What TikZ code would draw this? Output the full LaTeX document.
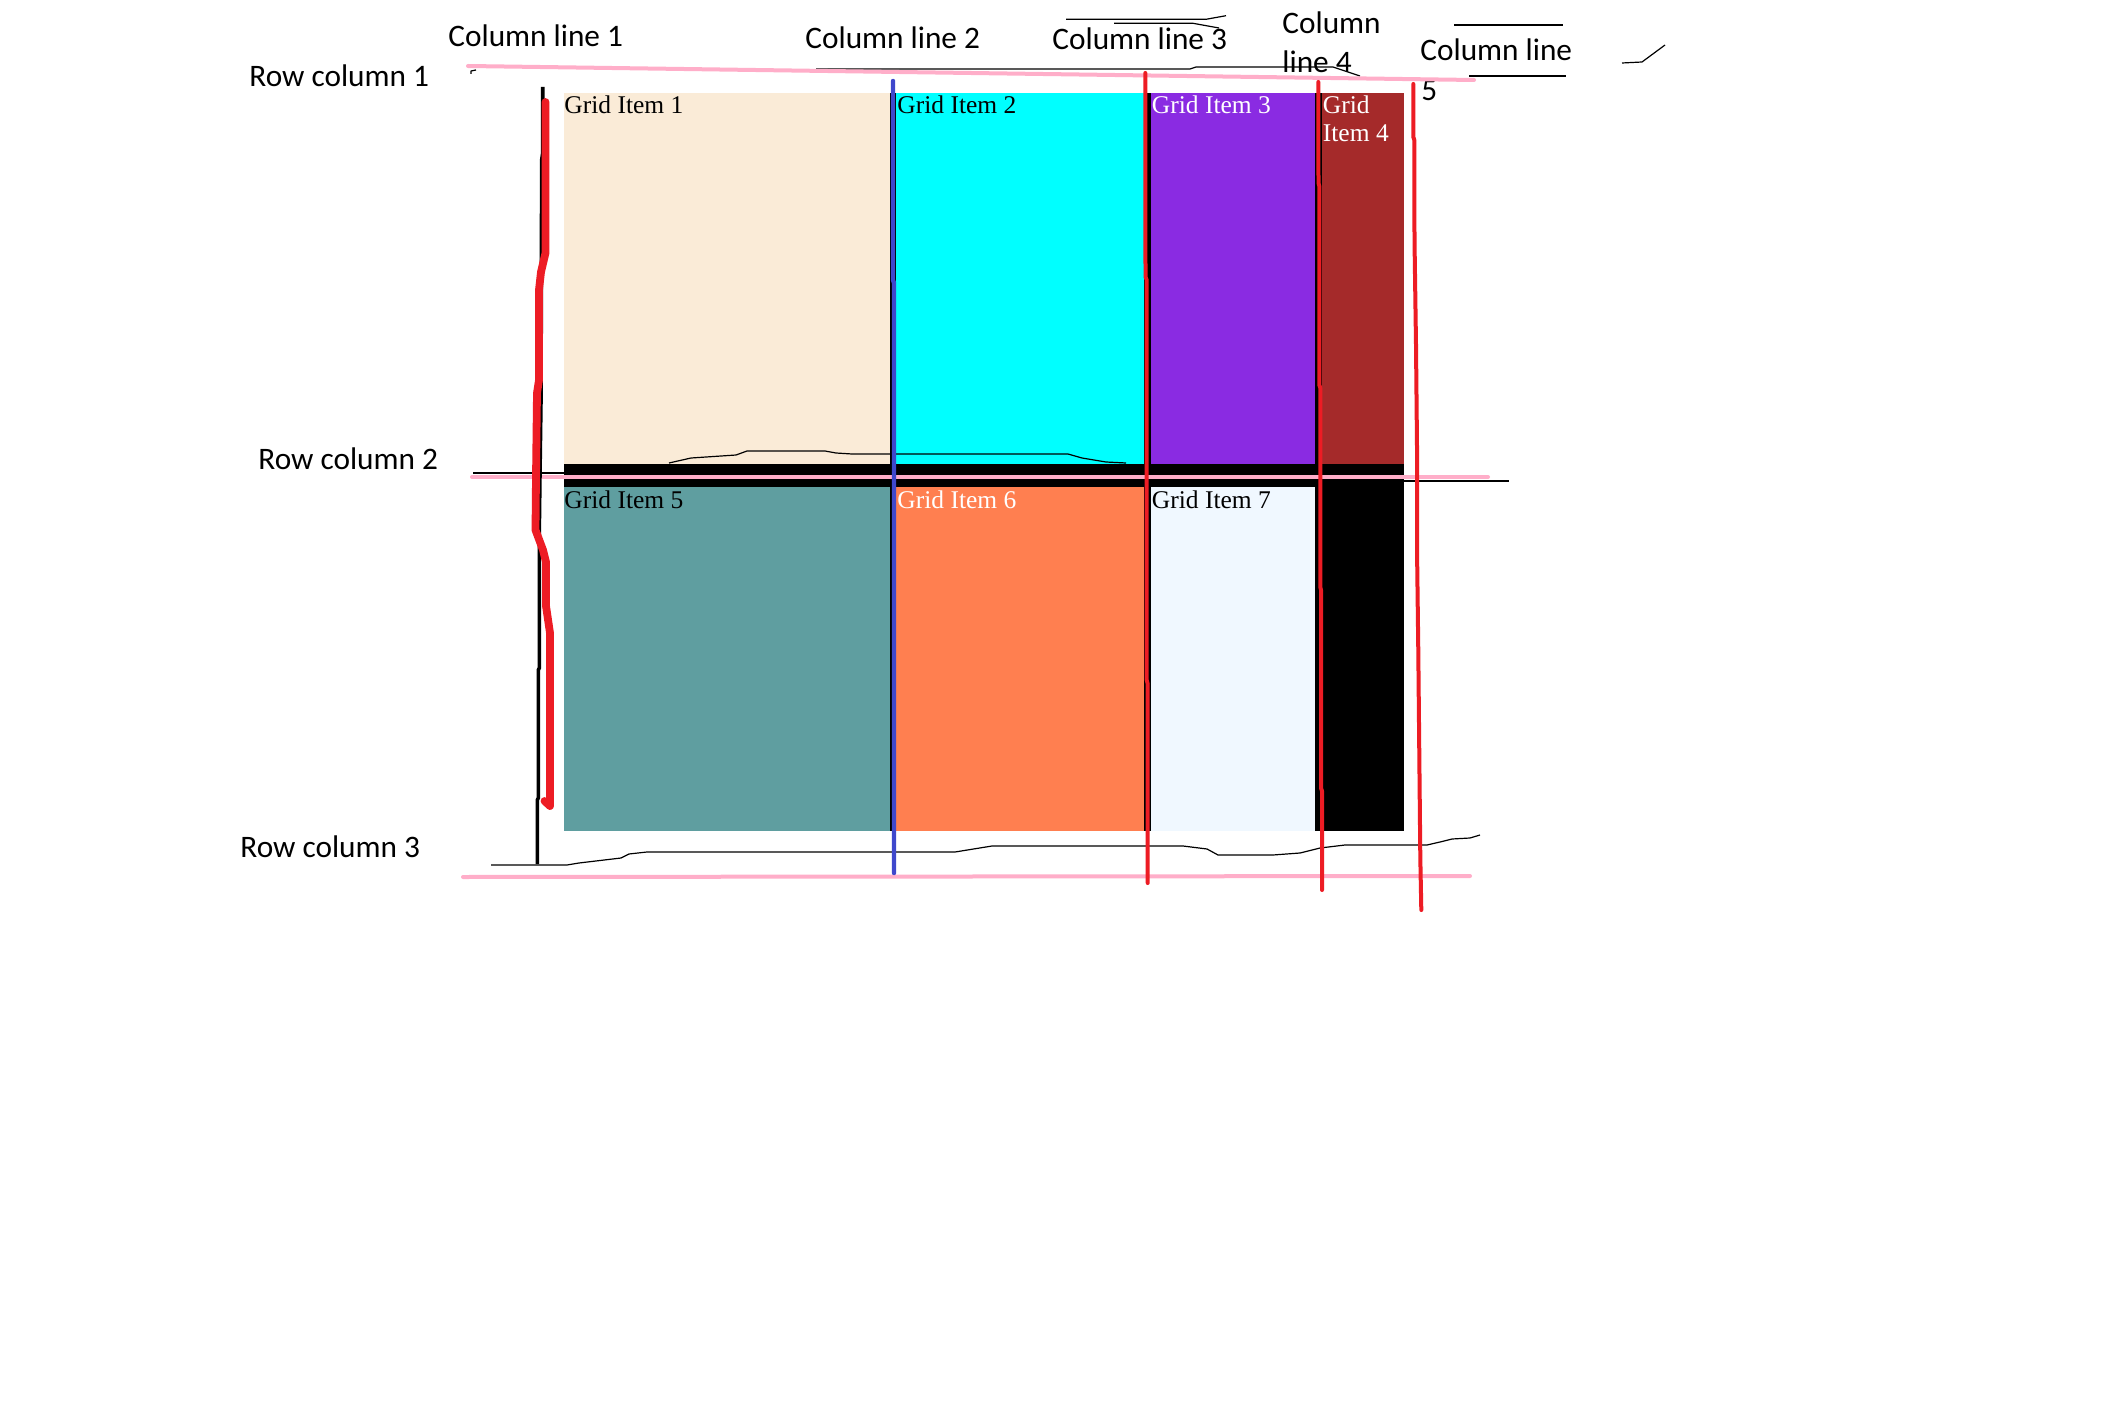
\documentclass[tikz,border=0pt]{standalone}
\usepackage{fontspec}
\setmainfont{Liberation Serif}
\newfontfamily\notefont{Carlito}

% grid item colours
\definecolor{itemA}{RGB}{250,235,215}
\definecolor{itemB}{RGB}{0,255,255}
\definecolor{itemC}{RGB}{138,43,226}
\definecolor{itemD}{RGB}{165,42,42}
\definecolor{itemE}{RGB}{95,158,160}
\definecolor{itemF}{RGB}{255,127,80}
\definecolor{itemG}{RGB}{240,248,255}
% pen colours
\definecolor{penred}{RGB}{237,28,36}
\definecolor{penpink}{RGB}{255,174,201}
\definecolor{penblue}{RGB}{63,72,204}

\begin{document}
\begin{tikzpicture}[x=0.5pt,y=-0.5pt,
  itemtext/.style={anchor=base west, inner sep=0pt, font=\fontsize{12.75pt}{14pt}\selectfont},
  notetext/.style={anchor=base west, inner sep=0pt, font=\notefont\fontsize{15.65pt}{19.5pt}\selectfont},
  pinkpen/.style={draw=penpink, line width=2pt, line cap=round},
  redpen/.style={draw=penred, line width=2pt, line cap=round, line join=round},
  thickred/.style={draw=penred, line width=3.9pt, line cap=round, line join=round},
  bluepen/.style={draw=penblue, line width=2.2pt, line cap=round},
  blackpen/.style={draw=black, line width=1.8pt},
  thinpen/.style={draw=black, line width=0.6pt, line join=round}]

\useasboundingbox (0,0) rectangle (2110,1407);
\fill[white] (0,0) rectangle (2110,1407);

% grid container (gaps show through in black)
\fill[black] (564,93) rectangle (1404,831);
% grid items
\fill[itemA] (564,93)  rectangle (890,464);
\fill[itemB] (896,93)  rectangle (1144,464);
\fill[itemC] (1151,93) rectangle (1315,464);
\fill[itemD] (1322,93) rectangle (1404,464);
\fill[itemE] (564,487) rectangle (890,831);
\fill[itemF] (896,487) rectangle (1144,831);
\fill[itemG] (1151,487) rectangle (1315,831);

\node[itemtext] (t1) at (564,114) {Grid Item 1};
\node[itemtext] (t2) at (897,114) {Grid Item 2};
\node[itemtext, text=white] (t3) at (1151.5,114) {Grid Item 3};
\node[itemtext, text=white] (t4a) at (1322.5,114) {Grid};
\node[itemtext, text=white] (t4b) at (1322.5,142) {Item 4};
\node[itemtext] (t5) at (564,508) {Grid Item 5};
\node[itemtext, text=white] (t6) at (897,508) {Grid Item 6};
\node[itemtext] (t7) at (1151.5,508) {Grid Item 7};

% hand-written labels
\node[notetext] (r1) at (249,87) {Row column 1};
\node[notetext] (r2) at (258,469) {Row column 2};
\node[notetext] (r3) at (240,857) {Row column 3};
\node[notetext] (l1) at (448,47) {Column line 1};
\node[notetext] (l2) at (805,49) {Column line 2};
\node[notetext] (l3) at (1052,50) {Column line 3};
\node[notetext] (l4a) at (1282,34) {Column};
\node[notetext] (l4b) at (1282,73) {line 4};
\node[notetext] (l5a) at (1420,61) {Column line};
\node[notetext] (l5b) at (1421,101) {5};

% thin freehand strokes
\draw[thinpen] (816,69) -- (1190,69) -- (1196,67) -- (1333,67) -- (1360,76);
\draw[thinpen] (1469,76) -- (1566,76);
\draw[thinpen] (1066,19.3) -- (1206,19.3) -- (1226,15.7);
\draw[thinpen] (1114,23.3) -- (1193,23.3) -- (1219,28);
\draw[thinpen] (1454,25) -- (1563,25);
\draw[thinpen] (1622,63) -- (1642,62) -- (1665,45);
\draw[thinpen] (471,74) -- (471,71) -- (476,70);
\draw[thinpen] (473,473) -- (564,473);
\draw[thinpen] (1404,481) -- (1509,481);
\draw[thinpen] (669,463) -- (691,458) -- (736,455) -- (747,451) -- (825,451)
  -- (836,453) -- (852,454) -- (1068,454) -- (1082,458) -- (1106,462) -- (1126,463);
\draw[thinpen] (491,865) -- (567,865) -- (579,863) -- (621,858) -- (629,854)
  -- (647,852) -- (955,852) -- (992,846) -- (1183,846) -- (1207,849) -- (1218,855)
  -- (1273,855) -- (1300,853) -- (1320,848) -- (1345,845) -- (1427,845)
  -- (1440,842) -- (1452,839) -- (1470,838) -- (1480,835);

% row lines
\draw[pinkpen] (468,66) -- (1474,80);
\draw[pinkpen] (472,477) -- (1488,477);
\draw[pinkpen] (463,877) -- (1470,876);

% column lines
\draw[blackpen] (542.7,87) -- (542.7,153) -- (541.7,160) -- (541,400) -- (540,473)
  -- (539.3,530) -- (539.3,668) -- (538.3,670) -- (538.3,798) -- (537.3,800) -- (537.3,864);
\draw[thickred] (545.5,102) -- (545.5,253) -- (541,272) -- (539,290) -- (539,380)
  -- (537,393) -- (536,477) -- (535.5,530) -- (543,550) -- (546,562) -- (546,606)
  -- (550,633) -- (550,806) -- (544.5,801);
\draw[bluepen] (893,81) -- (893,280) -- (894,283) -- (894,873);
\draw[redpen] (1145.3,73) -- (1145.5,277) -- (1146.7,280) -- (1146.7,680)
  -- (1147.7,684) -- (1147.7,883);
\draw[redpen] (1318.3,82) -- (1318.5,183) -- (1319.3,186) -- (1319.3,385)
  -- (1320.3,388) -- (1320.3,587) -- (1321,590) -- (1321,788) -- (1322,791) -- (1322,890);
\draw[redpen] (1413.3,84) -- (1413.3,137) -- (1414.3,140) -- (1414.5,240)
  -- (1416,345) -- (1417,447) -- (1417,548) -- (1418.3,652) -- (1419.3,755)
  -- (1420.3,857) -- (1421.3,910);
\end{tikzpicture}
\end{document}
